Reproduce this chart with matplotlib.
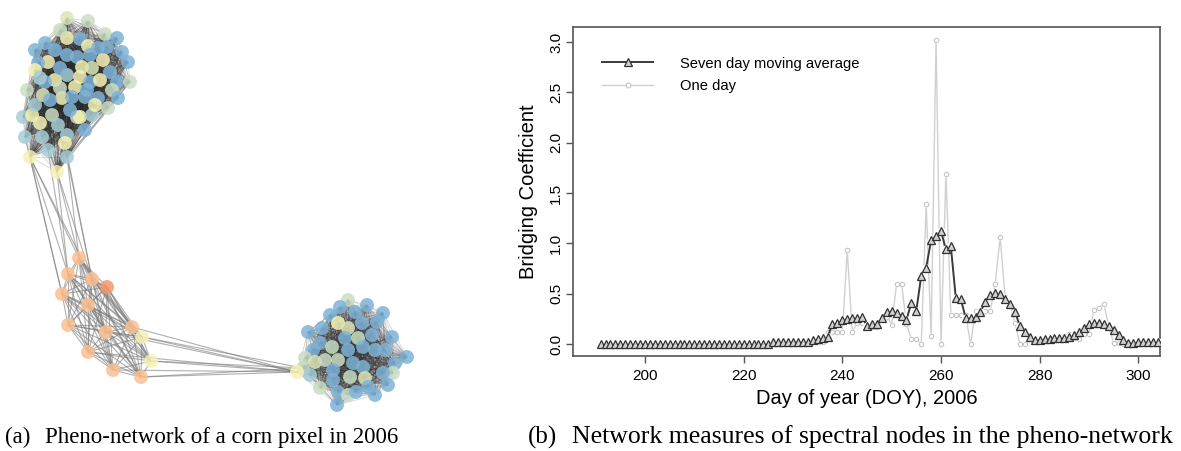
import numpy as np
import matplotlib
matplotlib.use('Agg')
import matplotlib.pyplot as plt
from matplotlib.collections import LineCollection
from matplotlib.lines import Line2D
from itertools import combinations

plt.rcParams['font.family'] = ['Liberation Sans', 'DejaVu Sans']

# ---------------- (a) pheno-network, node positions ----------------
# upper cluster
top_x = [67, 88, 105, 117, 67, 80, 88, 45, 98, 107, 55, 67, 77, 90, 103, 128, 48, 38, 35, 82,
         92, 67, 80, 55, 45, 90, 117, 130, 27, 75, 87, 112, 43, 62, 72, 85, 98, 118, 108, 23,
         32, 40, 52, 77, 80, 92, 25, 42, 67, 65, 48, 67, 30, 57, 60, 50, 35, 60, 110, 100,
         60, 70, 95, 35, 122, 58, 85, 40]
top_y = [18, 21, 34, 38, 38, 39, 46, 43, 48, 47, 50, 55, 57, 55, 60, 62, 62, 63, 70, 67,
         68, 75, 77, 80, 82, 82, 82, 82, 90, 87, 90, 90, 95, 98, 97, 97, 98, 98, 108, 117,
         115, 123, 115, 117, 117, 115, 137, 137, 135, 143, 150, 157, 157, 172, 30, 100, 105, 68, 72, 80,
         88, 110, 105, 50, 52, 125, 130, 78]
top_c = "LGGBYBYBBBBBBBYBYBYYLTYYBBBGGYBGLYBBBBGTYYGGYTTTTYTTYYGBTBBYGBYBBTBT"

# middle (orange) cluster
mid_x = [79, 68, 92, 107, 62, 88, 68, 106, 132, 142, 88, 151, 113, 141]
mid_y = [258, 274, 279, 287, 294, 305, 325, 332, 327, 337, 352, 361, 370, 377]
mid_c = "OOORO" + "OOOOY" + "OYOO"

# lower right cluster
low_x = [348, 340, 367, 383, 355, 330, 308, 338, 348, 362, 377, 322, 392, 372, 345, 358,
         407, 395, 385, 393, 320, 332, 348, 363, 375, 313, 305, 315, 325, 338, 353, 363,
         333, 350, 365, 383, 303, 310, 320, 333, 338, 348, 368, 356, 375, 388, 337, 297]
low_y = [300, 307, 305, 313, 312, 315, 332, 323, 328, 323, 322, 328, 337, 335, 338, 338,
         357, 363, 350, 373, 343, 347, 350, 347, 350, 350, 358, 362, 360, 360, 363, 367,
         370, 377, 378, 373, 368, 375, 388, 380, 392, 395, 387, 392, 395, 385, 405, 372]
low_c = "GBBBBBBYLBBBBBBGBBBGBGBBBBGLGGBBBGLBGTGBBGBBBBBY"

# links between clusters (index pairs)
top_mid_links = [(52, 0), (52, 1), (52, 4), (53, 0), (53, 2), (53, 1),
                 (51, 2), (51, 0), (49, 2), (46, 4), (50, 1), (52, 2)]
mid_low_links = [(8, 47), (9, 47), (11, 47), (13, 47), (12, 47), (7, 47),
                 (10, 47), (9, 36), (11, 36), (13, 36)]

node_colors = {'B': '#7fb3d8', 'Y': '#f5f2b5', 'L': '#dce6b6', 'G': '#c9dec3',
               'T': '#a5cdd5', 'O': '#fcbf8f', 'R': '#f6946a'}

# ---------------- (b) bridging coefficient ----------------
days = np.arange(191, 305)
seven_day = ([0.0] * 35 + [0.02] * 8 +
             [0.04, 0.05, 0.06, 0.07,
              0.20, 0.21, 0.24, 0.25, 0.26, 0.26, 0.27, 0.18, 0.20, 0.20,
              0.26, 0.32, 0.33, 0.31, 0.28, 0.24, 0.41, 0.33, 0.68, 0.76,
              1.03, 1.07, 1.12, 0.94, 0.97, 0.46, 0.45, 0.26, 0.26, 0.27,
              0.32, 0.42, 0.49, 0.51, 0.50, 0.45, 0.40, 0.32, 0.18, 0.12,
              0.07, 0.04, 0.04, 0.05, 0.05, 0.06, 0.06, 0.06, 0.07, 0.09,
              0.12, 0.16, 0.20, 0.21, 0.21, 0.20, 0.18, 0.14, 0.09, 0.04,
              0.01, 0.01] + [0.02] * 5)
one_day = ([0.0] * 35 + [0.02] * 8 +
           [0.02, 0.02, 0.02, 0.12,
            0.12, 0.12, 0.12, 0.93, 0.12, 0.21, 0.21, 0.17, 0.17, 0.17,
            0.27, 0.27, 0.19, 0.60, 0.60, 0.20, 0.05, 0.05, 0.0, 1.39,
            0.08, 3.02, 0.0, 1.69, 0.29, 0.29, 0.29, 0.29, 0.0, 0.33,
            0.33, 0.33, 0.33, 0.60, 1.06, 0.47, 0.40, 0.21, 0.0, 0.0,
            0.05, 0.03, 0.04, 0.05, 0.05, 0.06, 0.06, 0.08, 0.10, 0.06,
            0.05, 0.10, 0.10, 0.34, 0.36, 0.40, 0.18, 0.01, 0.01, 0.0,
            0.0, 0.02] + [0.02] * 5)
x_ticks = [200, 220, 240, 260, 280, 300]
y_ticks = [0.0, 0.5, 1.0, 1.5, 2.0, 2.5, 3.0]

W, H = 1181, 451
fig = plt.figure(figsize=(W / 100, H / 100), dpi=100)

# ---- network panel, axes in picture pixel units ----
ax_net = fig.add_axes([0, 1 - 420 / H, 430 / W, 420 / H])
ax_net.set_xlim(0, 430)
ax_net.set_ylim(420, 0)
ax_net.axis('off')

segs_dense = []
for xs, ys in [(top_x, top_y), (low_x, low_y)]:
    for i, j in combinations(range(len(xs)), 2):
        segs_dense.append([(xs[i], ys[i]), (xs[j], ys[j])])
ax_net.add_collection(LineCollection(segs_dense, colors='#2a2a2a', linewidths=0.6,
                                     alpha=0.2, zorder=1))

segs_mid = [[(mid_x[i], mid_y[i]), (mid_x[j], mid_y[j])]
            for i, j in combinations(range(len(mid_x)), 2)]
segs_mid += [[(top_x[i], top_y[i]), (mid_x[j], mid_y[j])] for i, j in top_mid_links]
segs_mid += [[(mid_x[i], mid_y[i]), (low_x[j], low_y[j])] for i, j in mid_low_links]
ax_net.add_collection(LineCollection(segs_mid, colors='#7a7a7a', linewidths=0.8,
                                     alpha=0.6, zorder=1))

for xs, ys, cs in [(top_x, top_y, top_c), (mid_x, mid_y, mid_c), (low_x, low_y, low_c)]:
    ax_net.scatter(xs, ys, s=100, c=[node_colors[k] for k in cs], edgecolors='none',
                   alpha=0.85, zorder=2)

# ---- bridging coefficient panel ----
ax = fig.add_axes([573 / W, 1 - 356 / H, 587 / W, 329 / H])
ax.plot(days, one_day, color='#d0d0d0', lw=1.0, zorder=1)
ax.plot(days, one_day, ls='none', marker='o', ms=4.5, mfc='white', mec='none', zorder=2)
ax.plot(days, one_day, ls='none', marker='o', ms=3.2, mfc='white', mec='#c4c4c4',
        mew=0.8, zorder=3)
ax.plot(days, seven_day, color='#3a3a3a', lw=1.4, zorder=4)
ax.plot(days, seven_day, ls='none', marker='o', ms=6, mfc='white', mec='none', zorder=5)
ax.plot(days, seven_day, ls='none', marker='^', ms=5.2, mfc='#d0d0d0', mec='#303030',
        mew=0.9, zorder=6)

ax.set_xlim(185.4, 304.4)
ax.set_ylim(-0.119, 3.149)
ax.set_xticks(x_ticks)
ax.set_yticks(y_ticks)
ax.set_yticklabels(['%.1f' % v for v in y_ticks], rotation=90, va='center')
ax.tick_params(direction='out', length=5, width=1, color='#555555', labelsize=11, pad=2)
ax.tick_params(axis='x', pad=4)
for sp in ax.spines.values():
    sp.set_color('#555555')
    sp.set_linewidth(1.2)
ax.set_xlabel('Day of year (DOY), 2006', fontsize=14.5, labelpad=5)
ax.set_ylabel('Bridging Coefficient', fontsize=14.5, labelpad=8)

handles = [Line2D([], [], color='#3a3a3a', lw=1.4, marker='^', ms=6, mfc='#d0d0d0',
                  mec='#303030', mew=0.9),
           Line2D([], [], color='#d0d0d0', lw=1.0, marker='o', ms=3.5, mfc='white',
                  mec='#c4c4c4', mew=0.8)]
ax.legend(handles, ['Seven day moving average', 'One day'], loc='upper left',
          bbox_to_anchor=(0.049, 0.91), frameon=False, fontsize=10.6, handlelength=3.5,
          handletextpad=1.8, borderpad=0, borderaxespad=0, labelspacing=0.6)

# ---- captions ----
cap = dict(family=['Liberation Serif', 'DejaVu Serif'], va='center')
fig.text(5 / W, 1 - 437 / H, '(a)', fontsize=16.5, **cap)
fig.text(45 / W, 1 - 437 / H, 'Pheno-network of a corn pixel in 2006', fontsize=16.5, **cap)
fig.text(528 / W, 1 - 437 / H, '(b)', fontsize=18, **cap)
fig.text(572 / W, 1 - 437 / H, 'Network measures of spectral nodes in the pheno-network',
         fontsize=18.5, **cap)

fig.savefig('out.png', dpi=100)
